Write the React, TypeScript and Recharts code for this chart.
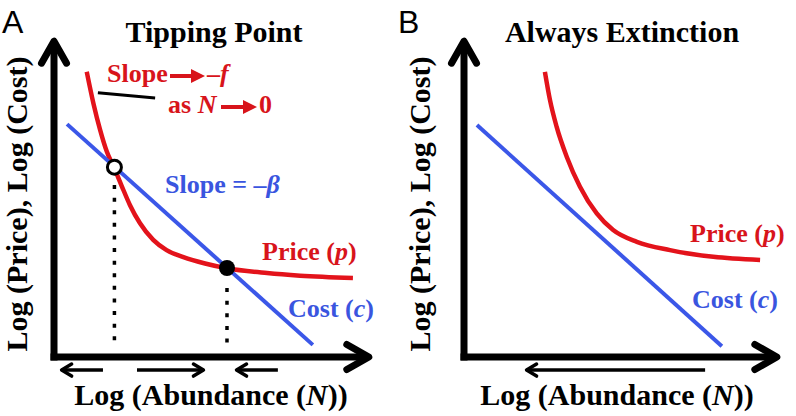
import React from "react";
import { LineChart, Line, XAxis, YAxis, ReferenceLine, ReferenceDot, Customized } from "recharts";

// log N on x, log price / log cost on y (arbitrary log units)
const PRICE_A = [
  { x: 1.03, y: 8.94 }, { x: 1.24, y: 7.95 }, { x: 1.45, y: 7.12 }, { x: 1.66, y: 6.44 },
  { x: 1.9, y: 5.91 }, { x: 2.13, y: 5.36 }, { x: 2.39, y: 4.76 }, { x: 2.7, y: 4.2 },
  { x: 3.12, y: 3.67 }, { x: 3.54, y: 3.35 }, { x: 4.07, y: 3.13 }, { x: 4.75, y: 2.93 },
  { x: 5.44, y: 2.78 }, { x: 6.7, y: 2.63 }, { x: 7.74, y: 2.55 }, { x: 9.4, y: 2.48 },
];
const COST_A = [{ x: 0.41, y: 7.3 }, { x: 8.14, y: 0.38 }];
const EQUILIBRIA_A = [
  { x: 1.9, y: 5.95, stable: false },
  { x: 5.44, y: 2.79, stable: true },
];
const DROP_LINES_A = [
  [{ x: 1.9, y: 5.39 }, { x: 1.9, y: 0.34 }],
  [{ x: 5.44, y: 2.16 }, { x: 5.44, y: 0.34 }],
];
const TANGENT_A = [{ x: 1.38, y: 8.28 }, { x: 3.18, y: 8.12 }];
// direction of N change, [from, to]
const FLOW_A = [[1.54, 0.24], [2.61, 4.7], [7.04, 5.74]];

const PRICE_B = [
  { x: 2.56, y: 8.94 }, { x: 2.72, y: 8.06 }, { x: 2.93, y: 7.22 }, { x: 3.25, y: 6.28 },
  { x: 3.67, y: 5.34 }, { x: 4.2, y: 4.5 }, { x: 4.72, y: 3.98 }, { x: 5.47, y: 3.61 },
  { x: 6.52, y: 3.35 }, { x: 7.89, y: 3.14 }, { x: 9.37, y: 3.04 },
];
const COST_B = [{ x: 0.41, y: 7.27 }, { x: 8.16, y: 0.34 }];
const FLOW_B = [[7.63, 1.98]];

const AXIS_END = 9.9;
const FLOW_Y = -0.41;
const X_DOMAIN = [-1.5, 10.5];
const Y_DOMAIN = [-1.5, 10.5];

const W = 398;
const H = 416;
const RED = "#e3131b";
const RED_TEXT = "#d8141b";
const BLUE = "#3b57e8";
const BLUE_TEXT = "#3a55df";
const SERIF = "'Liberation Serif', 'Times New Roman', serif";

// place the axis origin (ox, oy) in pixels with sx/sy pixels per log unit
function marginFor(ox: number, oy: number, sx: number, sy: number) {
  return {
    left: ox + X_DOMAIN[0] * sx,
    right: W - (ox + X_DOMAIN[1] * sx),
    top: oy - Y_DOMAIN[1] * sy,
    bottom: H - (oy - Y_DOMAIN[0] * sy),
  };
}

// line with an open chevron head at (x2, y2)
function arrowShape(head: number, half: number, width: number, tail = 0) {
  return (props: any) => {
    const { x1, y1, x2, y2 } = props;
    const dx = x2 - x1;
    const dy = y2 - y1;
    const len = Math.hypot(dx, dy) || 1;
    const ux = dx / len;
    const uy = dy / len;
    const bx = x2 - ux * head;
    const by = y2 - uy * head;
    const px = -uy * half;
    const py = ux * half;
    return (
      <g>
        <line x1={x1 - ux * tail} y1={y1 - uy * tail} x2={x2} y2={y2} stroke="#000" strokeWidth={width} />
        <polyline
          points={`${bx + px},${by + py} ${x2},${y2} ${bx - px},${by - py}`}
          fill="none"
          stroke="#000"
          strokeWidth={width}
          strokeLinejoin="round"
          strokeLinecap="round"
        />
      </g>
    );
  };
}

const axisArrow = arrowShape(22, 12.5, 7, 3.5);
const flowArrow = arrowShape(10, 6, 3.5);

function textArrow(x1: number, x2: number, y: number, color: string) {
  return (
    <g>
      <line x1={x1} y1={y} x2={x2 - 10} y2={y} stroke={color} strokeWidth={4} />
      <polygon points={`${x2},${y} ${x2 - 14},${y - 7} ${x2 - 14},${y + 7}`} fill={color} />
    </g>
  );
}

function CommonLabels({ letter, title, titleX, yLabelX, xLabelX }: any) {
  return (
    <g fontFamily={SERIF} fontWeight="bold">
      <text x={letter === "A" ? 2 : 0} y={33} fontFamily="'Liberation Sans', Arial, sans-serif" fontWeight="normal" fontSize={32}>
        {letter}
      </text>
      <text x={titleX} y={42} textAnchor="middle" fontSize={30}>{title}</text>
      <text x={yLabelX} y={204} textAnchor="middle" fontSize={30} transform={`rotate(-90, ${yLabelX}, 204)`}>
        Log (Price), Log (Cost)
      </text>
      <text x={xLabelX} y={405} textAnchor="middle" fontSize={30}>
        Log (Abundance (<tspan fontStyle="italic">N</tspan>))
      </text>
    </g>
  );
}

function LabelsA() {
  return (
    <g>
      <CommonLabels letter="A" title="Tipping Point" titleX={214} yLabelX={27} xLabelX={211} />
      <g fontFamily={SERIF} fontWeight="bold" fontSize={26}>
        <text x={107} y={82} fill={RED_TEXT}>Slope</text>
        {textArrow(170, 205, 76, RED_TEXT)}
        <text x={207} y={82} fill={RED_TEXT}>–<tspan fontStyle="italic">f</tspan></text>
        <text x={168} y={113} fill={RED_TEXT}>as <tspan fontStyle="italic">N</tspan></text>
        {textArrow(221, 257, 107, RED_TEXT)}
        <text x={259} y={113} fill={RED_TEXT}>0</text>
        <text x={165} y={193} fill={BLUE_TEXT}>Slope = –<tspan fontStyle="italic">β</tspan></text>
        <text x={262} y={260} fill={RED_TEXT}>Price (<tspan fontStyle="italic">p</tspan>)</text>
        <text x={288} y={317} fill={BLUE_TEXT}>Cost (<tspan fontStyle="italic">c</tspan>)</text>
      </g>
    </g>
  );
}

function LabelsB() {
  return (
    <g>
      <CommonLabels letter="B" title="Always Extinction" titleX={224} yLabelX={32} xLabelX={219} />
      <g fontFamily={SERIF} fontWeight="bold" fontSize={26}>
        <text x={292} y={242} fill={RED_TEXT}>Price (<tspan fontStyle="italic">p</tspan>)</text>
        <text x={294} y={308} fill={BLUE_TEXT}>Cost (<tspan fontStyle="italic">c</tspan>)</text>
      </g>
    </g>
  );
}

export default function App() {
  const marginA = marginFor(54, 357, 31.8, 31.9);
  const marginB = marginFor(66, 357, 31.6, 31.9);

  return (
    <div style={{ position: "absolute", left: 0, top: 0, width: 796, height: 416, background: "#fff", display: "flex" }}>
      {/* ── A: tipping point ── */}
      <LineChart width={W} height={H} margin={marginA}>
        <XAxis type="number" dataKey="x" domain={X_DOMAIN} hide allowDataOverflow />
        <YAxis type="number" dataKey="y" domain={Y_DOMAIN} hide allowDataOverflow />
        <ReferenceLine segment={[{ x: 0, y: 0 }, { x: AXIS_END, y: 0 }]} shape={axisArrow} ifOverflow="visible" />
        <ReferenceLine segment={[{ x: 0, y: 0 }, { x: 0, y: AXIS_END }]} shape={axisArrow} ifOverflow="visible" />
        {FLOW_A.map(([from, to], i) => (
          <ReferenceLine key={"f" + i} segment={[{ x: from, y: FLOW_Y }, { x: to, y: FLOW_Y }]} shape={flowArrow} ifOverflow="visible" />
        ))}
        {DROP_LINES_A.map((seg, i) => (
          <ReferenceLine key={"d" + i} segment={seg} stroke="#000" strokeWidth={3.5} strokeDasharray="4 8.6" ifOverflow="visible" />
        ))}
        <ReferenceLine segment={TANGENT_A} stroke="#000" strokeWidth={3} ifOverflow="visible" />
        <Line data={PRICE_A} dataKey="y" type="monotone" stroke={RED} strokeWidth={4.5} dot={false} activeDot={false} isAnimationActive={false} />
        <Line data={COST_A} dataKey="y" type="linear" stroke={BLUE} strokeWidth={4} dot={false} activeDot={false} isAnimationActive={false} />
        {EQUILIBRIA_A.map((p, i) => (
          <ReferenceDot
            key={"e" + i}
            x={p.x}
            y={p.y}
            r={p.stable ? 8 : 7}
            fill={p.stable ? "#000" : "#fff"}
            stroke="#000"
            strokeWidth={p.stable ? 0 : 3}
            ifOverflow="visible"
          />
        ))}
        <Customized component={<LabelsA />} />
      </LineChart>

      {/* ── B: always extinction ── */}
      <LineChart width={W} height={H} margin={marginB}>
        <XAxis type="number" dataKey="x" domain={X_DOMAIN} hide allowDataOverflow />
        <YAxis type="number" dataKey="y" domain={Y_DOMAIN} hide allowDataOverflow />
        <ReferenceLine segment={[{ x: 0, y: 0 }, { x: AXIS_END, y: 0 }]} shape={axisArrow} ifOverflow="visible" />
        <ReferenceLine segment={[{ x: 0, y: 0 }, { x: 0, y: AXIS_END }]} shape={axisArrow} ifOverflow="visible" />
        {FLOW_B.map(([from, to], i) => (
          <ReferenceLine key={"f" + i} segment={[{ x: from, y: FLOW_Y }, { x: to, y: FLOW_Y }]} shape={flowArrow} ifOverflow="visible" />
        ))}
        <Line data={PRICE_B} dataKey="y" type="monotone" stroke={RED} strokeWidth={4.5} dot={false} activeDot={false} isAnimationActive={false} />
        <Line data={COST_B} dataKey="y" type="linear" stroke={BLUE} strokeWidth={4} dot={false} activeDot={false} isAnimationActive={false} />
        <Customized component={<LabelsB />} />
      </LineChart>
    </div>
  );
}
